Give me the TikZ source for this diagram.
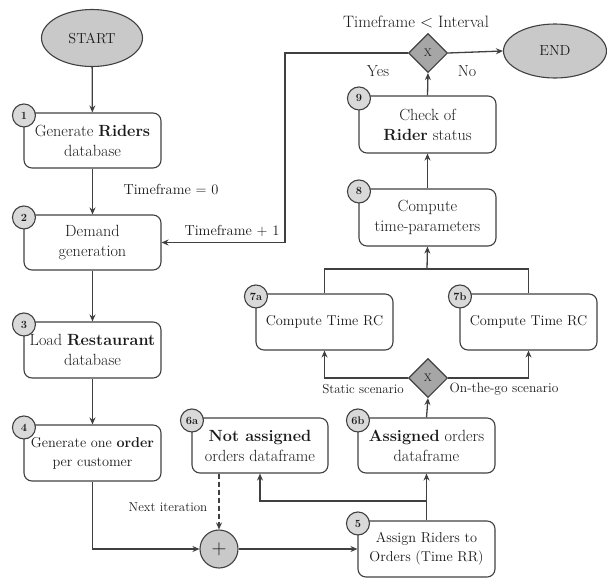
\documentclass[tikz,border=0pt]{standalone}
\usetikzlibrary{shapes.geometric,arrows.meta,calc}
\definecolor{ln}{HTML}{404040}
\definecolor{ellfill}{HTML}{C9C9C9}
\definecolor{badgefill}{HTML}{D9D9D9}
\definecolor{diafill}{HTML}{A6A6A6}
\definecolor{txt}{HTML}{1A1A1A}
\tikzset{
  every node/.style={text=txt},
  box/.style={draw=ln, line width=1.1pt, rounded corners=8pt, minimum width=137pt, minimum height=55pt, align=center, inner sep=2pt, font=\fontsize{16.2}{20}\selectfont},
  smallbox/.style={box, font=\fontsize{14.3}{19}\selectfont},
  term/.style={ellipse, draw=ln, line width=1.1pt, fill=ellfill, inner sep=0pt, font=\fontsize{14.5}{16}\selectfont},
  badge/.style={circle, draw=ln, line width=1.1pt, fill=badgefill, minimum size=23pt, inner sep=0pt, font=\fontsize{11}{12}\selectfont\bfseries},
  gate/.style={diamond, draw=ln, line width=1.1pt, fill=diafill, minimum width=39pt, minimum height=39pt, inner sep=0pt, font=\fontsize{11}{12}\selectfont},
  plusnode/.style={circle, draw=ln, line width=1.1pt, fill=ellfill, minimum size=38pt, inner sep=0pt, font=\fontsize{20}{20}\selectfont},
  arr/.style={draw=ln, line width=1.3pt, -{Stealth[length=7pt,width=6pt]}},
  ln/.style={draw=ln, line width=1.3pt},
  lbl/.style={font=\fontsize{13}{14}\selectfont, inner sep=0pt},
}
\begin{document}
\begin{tikzpicture}[x=1pt,y=-1pt]
\useasboundingbox (0,0) rectangle (607,579);
% terminals
\node[term, minimum width=101pt, minimum height=57pt] (start) at (92,38) {START};
\node[term, minimum width=103pt, minimum height=54pt] (end) at (555,51) {END};
% left column
\node[box] (b1) at (92.5,140.5) {Generate \textbf{Riders}\\database};
\node[box] (b2) at (92.5,242.5) {Demand\\generation};
\node[box, minimum height=56pt] (b3) at (92.5,350) {Load \textbf{Restaurant}\\database};
\node[smallbox, minimum height=56pt] (b4) at (92.5,453) {Generate one \textbf{order}\\per customer};
% bottom
\node[plusnode] (plus) at (219,549) {$+$};
\node[smallbox, minimum height=56pt] (b5) at (426.5,549) {Assign Riders to\\Orders (Time RR)};
\node[box, minimum width=136pt] (b6a) at (260,445.5) {\textbf{Not assigned}\\orders dataframe};
\node[box] (b6b) at (426.5,445.5) {\textbf{Assigned} orders\\dataframe};
\node[gate] (d2) at (428,378) {X};
\node[smallbox, minimum height=56pt] (b7a) at (324.5,322) {Compute Time RC};
\node[smallbox, minimum height=56pt] (b7b) at (528.5,322) {Compute Time RC};
\node[box, minimum height=57pt] (b8) at (427.5,217.5) {Compute\\time-parameters};
\node[box, minimum height=57pt] (b9) at (427.5,124.5) {Check of\\\textbf{Rider} status};
\node[gate] (d1) at (428,53) {X};
% badges
\foreach \b/\t in {b1/1,b2/2,b3/3,b4/4,b5/5,b6a/6a,b6b/6b,b7a/7a,b7b/7b,b8/8,b9/9}{
  \node[badge] (bad\b) at ($(\b.north west)+(0.5,3)$) {\t};
}
% coordinates
\coordinate (c1) at (285,53);
\coordinate (j1) at (427,501);
\coordinate (j2) at (427,269);
% connectors
\draw[arr] (start) -- (b1);
\draw[arr] (b1) -- (b2);
\draw[arr] (b2) -- (b3);
\draw[arr] (b3) -- (b4);
\draw[arr] (b4.south) |- (plus.west);
\draw[arr] (plus.east) -- (b5.west);
\draw[arr] (b5.north) -- (b6b.south);
\draw[arr] (j1) -| (b6a.south);
\draw[arr, dashed, dash pattern=on 5pt off 3pt] (plus.north |- b6a.south) -- (plus.north);
\draw[arr] (b6b.north) -- (d2.south);
\draw[arr] (d2.west) -| (b7a.south);
\draw[arr] (d2.east) -| (b7b.south);
\draw[ln] (b7a.north) |- (j2) -| (b7b.north);
\draw[arr] (j2) -- (b8.south);
\draw[arr] (b8) -- (b9);
\draw[arr] (b9.north) -- (d1.south);
\draw[arr] (d1.east) -- (end.west);
\draw[arr] (d1.west) -- (c1) |- (b2.east);
% labels
\node[lbl, font=\fontsize{14.5}{16}\selectfont] (l0) at (171,190) {Timeframe $=$ 0};
\node[lbl, font=\fontsize{14.5}{16}\selectfont] (l1) at (232,231) {Timeframe $+$ 1};
\node[lbl, font=\fontsize{16.5}{18}\selectfont] (l2) at (416,22) {Timeframe $<$ Interval};
\node[lbl, font=\fontsize{16}{18}\selectfont] (l3) at (378,71) {Yes};
\node[lbl, font=\fontsize{16}{18}\selectfont] (l4) at (467,71) {No};
\node[lbl] (l5) at (363,389) {Static scenario};
\node[lbl, font=\fontsize{13.5}{14}\selectfont] (l6) at (504,389) {On-the-go scenario};
\node[lbl] (l7) at (168,507) {Next iteration};
\end{tikzpicture}
\end{document}
